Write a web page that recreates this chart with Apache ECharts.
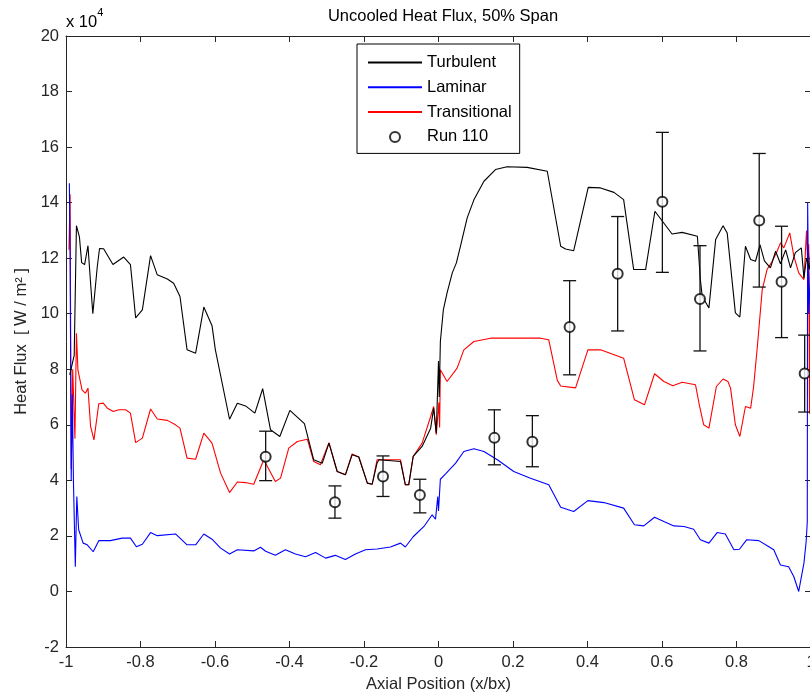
<!DOCTYPE html>
<html>
<head>
<meta charset="utf-8">
<script src="https://cdn.jsdelivr.net/npm/echarts@6/dist/echarts.min.js"></script>
<style>html,body{margin:0;padding:0;background:#fff;}#c{width:810px;height:700px;}</style>
</head>
<body>
<div id="c"></div>
<script>
// Values in units of 10^4 W/m^2, x = axial position x/bx
const turbulent = [
  [-0.99,7.8],[-0.978,8.5],[-0.972,13.17],[-0.964,12.77],[-0.958,11.84],[-0.950,11.77],[-0.941,12.45],
  [-0.934,11.1],[-0.928,10.0],[-0.923,9.96],[-0.916,11.7],[-0.910,12.35],[-0.899,12.34],[-0.874,11.77],
  [-0.845,12.04],[-0.827,11.77],[-0.813,9.85],[-0.795,10.14],[-0.773,12.09],[-0.755,11.4],[-0.728,11.25],
  [-0.711,11.1],[-0.694,10.62],[-0.675,8.7],[-0.652,8.58],[-0.630,10.24],[-0.608,9.57],[-0.599,8.7],
  [-0.561,6.2],[-0.540,6.78],[-0.518,6.68],[-0.493,6.42],[-0.472,7.3],[-0.451,5.82],[-0.426,5.58],
  [-0.399,6.52],[-0.360,6.04],[-0.335,4.74],[-0.312,4.62],[-0.294,5.34],[-0.272,4.32],[-0.250,4.2],
  [-0.232,4.92],[-0.214,4.84],[-0.191,3.9],[-0.178,3.86],[-0.165,4.62],[-0.160,4.74],[-0.102,4.68],
  [-0.089,3.84],[-0.080,3.84],[-0.068,4.86],[-0.044,5.22],[-0.021,5.88],[-0.013,6.6],[-0.006,5.7],
  [0.0,8.3],[0.002,7.0],[0.005,9.0],[0.013,10.14],[0.023,10.75],[0.037,11.47],[0.048,11.83],[0.059,12.43],
  [0.077,13.45],[0.095,14.1],[0.122,14.77],[0.153,15.19],[0.184,15.29],[0.238,15.27],[0.292,15.13],
  [0.328,12.43],[0.341,12.33],[0.363,12.27],[0.402,14.55],[0.435,14.53],[0.471,14.37],[0.497,14.11],
  [0.524,11.59],[0.556,11.59],[0.581,13.69],[0.627,12.87],[0.654,12.93],[0.695,12.79],[0.703,11.23],
  [0.708,10.62],[0.721,10.32],[0.726,10.21],[0.744,12.67],[0.764,13.17],[0.775,12.91],[0.797,10.03],
  [0.809,9.88],[0.824,12.43],[0.838,11.95],[0.851,11.89],[0.863,12.49],[0.875,11.9],[0.891,11.65],
  [0.905,12.25],[0.918,11.8],[0.932,12.3],[0.945,11.65],[0.958,12.2],[0.974,12.37],[0.981,11.29],
  [0.988,12.0],[0.996,11.6],[1.0,12.5]
];
const laminar = [
  [-0.991,14.7],[-0.989,12.2],[-0.986,4.0],[-0.983,7.1],[-0.980,3.96],[-0.975,0.89],[-0.971,3.42],
  [-0.966,2.22],[-0.962,2.2],[-0.954,1.74],[-0.943,1.68],[-0.927,1.43],[-0.912,1.83],[-0.881,1.83],
  [-0.849,1.92],[-0.827,1.92],[-0.811,1.61],[-0.795,1.7],[-0.773,2.12],[-0.755,2.01],[-0.706,2.07],
  [-0.675,1.68],[-0.652,1.68],[-0.630,2.07],[-0.608,1.88],[-0.585,1.56],[-0.561,1.35],[-0.540,1.5],
  [-0.496,1.46],[-0.478,1.59],[-0.464,1.45],[-0.438,1.3],[-0.411,1.5],[-0.384,1.35],[-0.357,1.25],
  [-0.330,1.4],[-0.303,1.2],[-0.277,1.3],[-0.250,1.15],[-0.223,1.35],[-0.196,1.5],[-0.165,1.53],
  [-0.129,1.6],[-0.102,1.74],[-0.089,1.6],[-0.068,1.97],[-0.039,2.34],[-0.017,2.76],[-0.008,2.6],
  [-0.002,3.42],[0.0,2.9],[0.005,4.04],[0.019,4.23],[0.046,4.62],[0.068,5.04],[0.095,5.14],[0.122,5.04],
  [0.158,4.74],[0.202,4.32],[0.247,4.08],[0.296,3.84],[0.328,3.03],[0.363,2.88],[0.401,3.27],[0.444,3.2],
  [0.497,3.0],[0.526,2.4],[0.551,2.36],[0.580,2.67],[0.605,2.52],[0.632,2.36],[0.659,2.34],[0.685,2.24],
  [0.703,1.86],[0.726,1.74],[0.748,2.12],[0.770,2.07],[0.793,1.5],[0.808,1.52],[0.827,1.86],[0.860,1.83],
  [0.887,1.61],[0.900,1.5],[0.918,0.95],[0.940,0.89],[0.954,0.53],[0.967,0.0],[0.981,1.02],[0.987,1.8],
  [0.990,2.5],[0.991,14.0],[0.994,10.0],[1.0,12.0]
];
const transitional = [
  [-0.992,12.3],[-0.989,14.3],[-0.986,4.4],[-0.982,8.0],[-0.976,5.5],[-0.972,9.3],[-0.968,7.98],
  [-0.966,8.04],[-0.957,7.26],[-0.948,7.14],[-0.941,7.32],[-0.934,5.94],[-0.925,5.46],[-0.912,6.76],
  [-0.900,6.78],[-0.889,6.6],[-0.873,6.48],[-0.858,6.54],[-0.840,6.54],[-0.827,6.42],[-0.813,5.36],
  [-0.795,5.52],[-0.773,6.57],[-0.755,6.21],[-0.728,6.16],[-0.706,6.0],[-0.694,5.88],[-0.675,4.8],
  [-0.652,4.76],[-0.630,5.7],[-0.608,5.34],[-0.585,4.26],[-0.561,3.56],[-0.540,3.94],[-0.518,3.92],
  [-0.496,3.86],[-0.469,4.74],[-0.438,3.96],[-0.424,4.08],[-0.402,5.16],[-0.379,5.4],[-0.352,5.48],
  [-0.335,4.68],[-0.317,4.56],[-0.294,5.36],[-0.272,4.32],[-0.250,4.2],[-0.232,4.95],[-0.214,4.84],
  [-0.191,3.9],[-0.178,3.86],[-0.165,4.74],[-0.102,4.74],[-0.089,3.84],[-0.080,3.84],[-0.068,4.86],
  [-0.044,5.34],[-0.021,6.3],[-0.013,6.66],[-0.006,5.64],[0.001,6.8],[0.003,5.9],[0.005,7.98],
  [0.023,7.56],[0.050,8.04],[0.068,8.7],[0.095,9.0],[0.140,9.12],[0.274,9.12],[0.296,9.06],[0.319,7.6],
  [0.328,7.4],[0.368,7.33],[0.401,8.7],[0.435,8.7],[0.497,8.4],[0.526,6.9],[0.553,6.72],[0.580,7.84],
  [0.605,7.56],[0.629,7.41],[0.654,7.53],[0.690,7.44],[0.701,6.66],[0.712,6.0],[0.726,5.88],[0.746,7.38],
  [0.764,7.65],[0.777,7.56],[0.784,7.32],[0.797,6.0],[0.809,5.58],[0.824,6.66],[0.838,6.6],[0.846,7.38],
  [0.856,8.82],[0.869,10.86],[0.882,11.59],[0.896,11.89],[0.909,12.25],[0.918,12.55],[0.927,12.37],
  [0.943,12.91],[0.954,12.07],[0.967,11.47],[0.981,11.23],[0.988,13.0],[0.991,11.8],[0.994,12.5],
  [0.996,6.4],[0.999,12.6]
];
// Run 110 measurements with error bars
const runX  = [-0.464,-0.278,-0.149,-0.050,0.150,0.252,0.352,0.481,0.601,0.702,0.861,0.921,0.983];
const runY  = [4.85,3.21,4.14,3.47,5.53,5.39,9.52,11.44,14.03,10.53,13.36,11.15,7.85];
const runHi = [5.77,3.80,4.88,4.04,6.54,6.33,11.19,13.50,16.53,12.45,15.77,13.15,9.23];
const runLo = [3.99,2.64,3.42,2.83,4.56,4.49,7.80,9.38,11.49,8.66,10.96,9.14,6.46];
const xTicks = {min:-1, max:1, interval:0.2};
const yTicks = {min:-2, max:20, interval:2};

const FONT = "'Liberation Sans', Arial, Helvetica, sans-serif";
const FS = 16.5;
const AX = '#262626';
const chart = echarts.init(document.getElementById('c'), null, {renderer:'canvas'});
const axisCommon = {
  axisLine:{show:true, onZero:false, lineStyle:{color:AX, width:1}},
  axisTick:{show:true, inside:true, length:6, lineStyle:{color:AX, width:1}},
  splitLine:{show:false}
};
const hideSym = {opacity:0};
chart.setOption({
  animation:false,
  backgroundColor:'#fff',
  title:{text:'Uncooled Heat Flux, 50% Span', left:438, top:3, textAlign:'center',
    textStyle:{fontFamily:FONT, fontSize:FS, fontWeight:'normal', color:'#000'}},
  grid:{left:66, top:36, width:745, height:611, containLabel:false, outerBoundsMode:'none'},
  legend:{
    orient:'vertical', left:357, top:44,
    backgroundColor:'#fff', borderColor:'#000', borderWidth:1,
    padding:[10, 8, 8, 10], itemWidth:54, itemHeight:10, itemGap:7.8,
    textStyle:{fontFamily:FONT, fontSize:FS, color:'#000'},
    data:[
      {name:'Turbulent', itemStyle:hideSym},
      {name:'Laminar', itemStyle:hideSym},
      {name:'Transitional', itemStyle:hideSym},
      {name:'Run 110'}
    ]
  },
  graphic:[{
    type:'text', left:66, top:7,
    style:{text:'{a|x 10}{b|4}', rich:{
      a:{fontFamily:FONT, fontSize:FS, color:AX, verticalAlign:'bottom', padding:[7,0,0,0]},
      b:{fontFamily:FONT, fontSize:11, color:AX, verticalAlign:'top'}
    }}
  }],
  xAxis:[
    Object.assign({type:'value', position:'bottom', min:xTicks.min, max:xTicks.max, interval:xTicks.interval,
      name:'Axial Position (x/bx)', nameLocation:'middle', nameGap:28,
      nameTextStyle:{fontFamily:FONT, fontSize:FS, color:AX},
      axisLabel:{fontFamily:FONT, fontSize:FS, color:AX, margin:7, showMaxLabel:true}}, axisCommon),
    Object.assign({type:'value', position:'top', min:xTicks.min, max:xTicks.max, interval:xTicks.interval,
      axisLabel:{show:false}}, axisCommon)
  ],
  yAxis:[
    Object.assign({type:'value', position:'left', min:yTicks.min, max:yTicks.max, interval:yTicks.interval,
      name:'Heat Flux  [ W / m\u00B2 ]', nameLocation:'middle', nameGap:33,
      nameTextStyle:{fontFamily:FONT, fontSize:FS, color:AX},
      axisLabel:{fontFamily:FONT, fontSize:FS, color:AX, margin:7}}, axisCommon),
    Object.assign({type:'value', position:'right', min:yTicks.min, max:yTicks.max, interval:yTicks.interval,
      axisLabel:{show:false}}, axisCommon)
  ],
  series:[
    {name:'Transitional', type:'line', data:transitional, symbol:'none', z:2,
      lineStyle:{color:'#ff0000', width:1.1}, itemStyle:{color:'#ff0000'}},
    {name:'Laminar', type:'line', data:laminar, symbol:'none', z:2,
      lineStyle:{color:'#0000ff', width:1.1}, itemStyle:{color:'#0000ff'}},
    {name:'Turbulent', type:'line', data:turbulent, symbol:'none', z:3,
      lineStyle:{color:'#000', width:1.1}, itemStyle:{color:'#000'}},
    {name:'errbars', type:'custom', z:4,
      data:runX.map((x,i)=>[x, runLo[i], runHi[i]]),
      encode:{x:0, y:[1,2]},
      renderItem:function(params, api){
        const x = api.value(0);
        const pLo = api.coord([x, api.value(1)]);
        const pHi = api.coord([x, api.value(2)]);
        const w = 6.5;
        const st = {stroke:'#111', lineWidth:1.3};
        return {type:'group', children:[
          {type:'line', shape:{x1:pLo[0], y1:pLo[1], x2:pHi[0], y2:pHi[1]}, style:st},
          {type:'line', shape:{x1:pHi[0]-w, y1:pHi[1], x2:pHi[0]+w, y2:pHi[1]}, style:st},
          {type:'line', shape:{x1:pLo[0]-w, y1:pLo[1], x2:pLo[0]+w, y2:pLo[1]}, style:st}
        ]};
      }
    },
    {name:'Run 110', type:'scatter', z:5, data:runX.map((x,i)=>[x, runY[i]]),
      symbol:'emptyCircle', symbolSize:10,
      itemStyle:{color:'#000', borderColor:'#111', borderWidth:1.2}}
  ]
});
</script>
</body>
</html>
